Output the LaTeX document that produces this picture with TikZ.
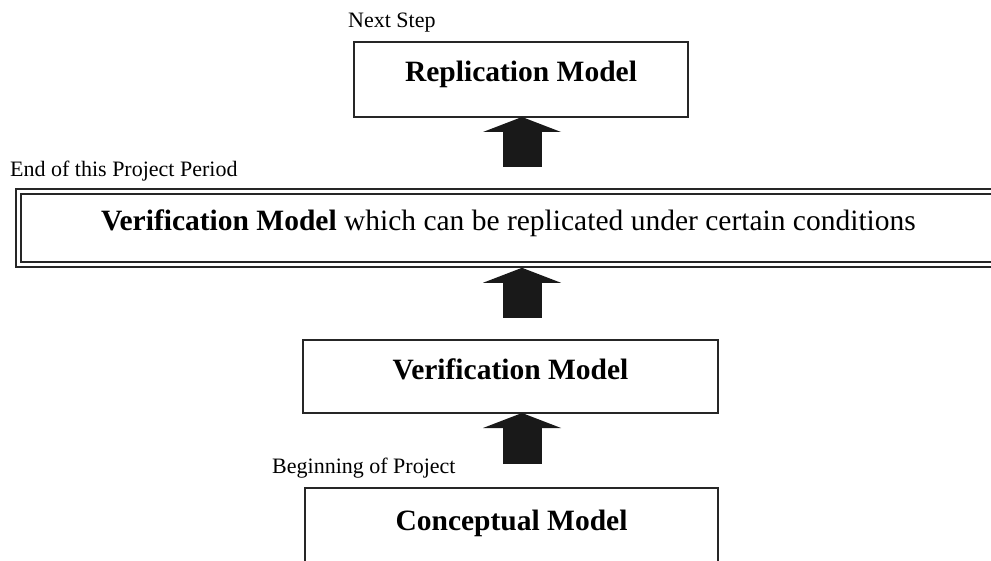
\documentclass[tikz,border=0pt]{standalone}
\usepackage{fontspec}
\setmainfont{Liberation Serif}
\usetikzlibrary{arrows.meta}

\begin{document}
\begin{tikzpicture}[
  x=1pt, y=-1pt,
  model/.style  = {rectangle, draw=black!85, line width=1.4pt,
                   inner sep=0pt, outer sep=0pt, anchor=north west,
                   font=\fontsize{29.5}{32}\selectfont},
  period/.style = {model, line width=1.9pt, double, double distance=3pt,
                   outer sep=3.4pt},
  fat/.style    = {line width=39pt, draw=black!90,
                   -{Triangle[width=78pt, length=15pt, line width=0pt]}},
  lbl/.style    = {font=\fontsize{22}{24}\selectfont, anchor=base west,
                   inner sep=0pt},
]
\useasboundingbox (0,0) rectangle (991,561);

% ── Models ─────────────────────────────────────────────────────────────────────
\node[model, minimum width=334pt, text height=40pt, text depth=35pt]
  (rep) at (354,42) {\textbf{Replication Model}};
\node[period, minimum width=980pt, text height=39.5pt, text depth=33.5pt]
  (vmr) at (15,188) {\textbf{Verification Model} which can be replicated under certain conditions};
\node[model, minimum width=415pt, text height=39pt, text depth=34pt]
  (ver) at (303,340) {\textbf{Verification Model}};
\node[model, minimum width=413pt, text height=42pt, text depth=60pt]
  (con) at (305,488) {\textbf{Conceptual Model}};

% ── Stage labels ───────────────────────────────────────────────────────────────
\node[lbl] (next) at (348,28)  {Next Step};
\node[lbl] (endp) at (10,177)  {End of this Project Period};
\node[lbl] (begp) at (272,473) {Beginning of Project};

% ── Arrows ─────────────────────────────────────────────────────────────────────
\coordinate (t1) at (522,167);
\coordinate (t2) at (522,318);
\coordinate (t3) at (522,464);
\foreach \from/\to in {t1/rep, t2/vmr, t3/ver}
  \draw[fat] (\from) -- (\from |- \to.south);

\end{tikzpicture}
\end{document}
